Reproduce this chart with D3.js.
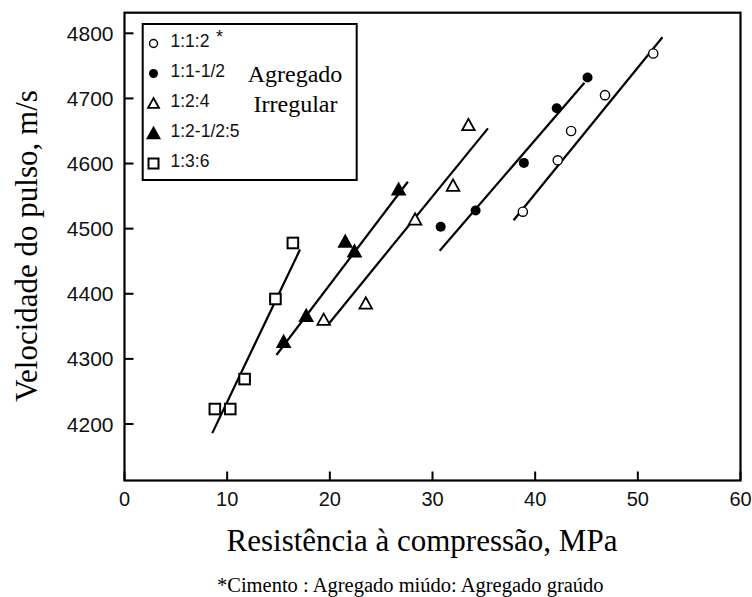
<!DOCTYPE html>
<html>
<head>
<meta charset="utf-8">
<script src="https://cdn.jsdelivr.net/npm/d3@7"></script>
<style>
body { margin: 0; background: #fff; }
.tickText { font-family: "Liberation Sans", Arial, sans-serif; fill: #111; }
.serif { font-family: "Liberation Serif", "Times New Roman", serif; fill: #000; }
</style>
</head>
<body>
<svg id="svgCanvas" width="752" height="597"></svg>
<script>
// series (compressive strength MPa, pulse velocity m/s)
var seriesNames = ["1:1:2", "1:1-1/2", "1:2:4", "1:2-1/2:5", "1:3:6"];

var s112_x = [38.8, 42.2, 43.5, 46.8, 51.5];
var s112_y = [4526, 4605, 4650, 4705, 4769];

var s11h_x = [30.8, 34.2, 38.9, 42.1, 45.1];
var s11h_y = [4503, 4528, 4601, 4685, 4732];

var s124_x = [19.4, 23.5, 28.3, 32.0, 33.5];
var s124_y = [4360, 4385, 4514, 4566, 4659];

var s1225_x = [15.5, 17.7, 21.5, 22.4, 26.7];
var s1225_y = [4326, 4366, 4480, 4465, 4560];

var s136_x = [8.8, 10.3, 11.7, 14.7, 16.4];
var s136_y = [4223, 4223, 4269, 4392, 4478];

// fitted lines: [x1, x2] and [y1, y2]
var fit112_x = [37.9, 52.4], fit112_y = [4513, 4794];
var fit11h_x = [30.7, 44.8], fit11h_y = [4466, 4724];
var fit124_x = [19.9, 35.4], fit124_y = [4354, 4654];
var fit1225_x = [14.8, 27.6], fit1225_y = [4306, 4572];
var fit136_x = [8.55, 17.1], fit136_y = [4186, 4468];

var xTicks = [0, 10, 20, 30, 40, 50, 60];
var yTicks = [4200, 4300, 4400, 4500, 4600, 4700, 4800];

var canvas = d3.select("#svgCanvas");

var xScale = d3.scaleLinear().domain([0, 60]).range([124.5, 740.5]);
var yScale = d3.scaleLinear().domain([4200, 4800]).range([424, 33.3]);

var plotLeft = 124.5, plotRight = 740.5, plotTop = 12.7, plotBottom = 480.5;

// grooves (inward ticks)
for (var i = 0; i < xTicks.length; i++) {
    canvas.append("line")
        .attr("x1", xScale(xTicks[i])).attr("x2", xScale(xTicks[i]))
        .attr("y1", plotBottom).attr("y2", plotBottom - 9)
        .attr("stroke", "#000").attr("stroke-width", 2);
    canvas.append("text")
        .attr("x", xScale(xTicks[i]))
        .attr("y", plotBottom + 25)
        .attr("text-anchor", "middle")
        .attr("font-size", 20)
        .attr("class", "tickText")
        .text(xTicks[i]);
}
for (var i = 0; i < yTicks.length; i++) {
    canvas.append("line")
        .attr("x1", plotLeft).attr("x2", plotLeft + 9)
        .attr("y1", yScale(yTicks[i])).attr("y2", yScale(yTicks[i]))
        .attr("stroke", "#000").attr("stroke-width", 2);
    canvas.append("text")
        .attr("x", plotLeft - 11)
        .attr("y", yScale(yTicks[i]) + 7.5)
        .attr("text-anchor", "end")
        .attr("font-size", 21)
        .attr("class", "tickText")
        .text(yTicks[i]);
}

// frame
canvas.append("rect")
    .attr("x", plotLeft).attr("y", plotTop)
    .attr("width", plotRight - plotLeft).attr("height", plotBottom - plotTop)
    .attr("fill", "none").attr("stroke", "#000").attr("stroke-width", 2.2);

// fit lines
var fits = [[fit112_x, fit112_y], [fit11h_x, fit11h_y], [fit124_x, fit124_y], [fit1225_x, fit1225_y], [fit136_x, fit136_y]];
for (var i = 0; i < fits.length; i++) {
    canvas.append("line")
        .attr("x1", xScale(fits[i][0][0])).attr("y1", yScale(fits[i][1][0]))
        .attr("x2", xScale(fits[i][0][1])).attr("y2", yScale(fits[i][1][1]))
        .attr("stroke", "#000").attr("stroke-width", 2.2);
}

function drawMarker(g, type, cx, cy, size) {
    if (type == "openCircle") {
        g.append("circle").attr("cx", cx).attr("cy", cy).attr("r", size)
            .attr("fill", "#fff").attr("stroke", "#000").attr("stroke-width", 1.4);
    } else if (type == "fullCircle") {
        g.append("circle").attr("cx", cx).attr("cy", cy).attr("r", size)
            .attr("fill", "#000");
    } else if (type == "openTri" || type == "fullTri") {
        var h = size * 1.8;
        var p = [[cx, cy - h * 0.55], [cx + size, cy + h * 0.45], [cx - size, cy + h * 0.45]];
        g.append("path").attr("d", "M" + p.join("L") + "Z")
            .attr("fill", type == "fullTri" ? "#000" : "#fff")
            .attr("stroke", "#000").attr("stroke-width", 1.8).attr("stroke-linejoin", "miter");
    } else if (type == "openSquare") {
        g.append("rect").attr("x", cx - size).attr("y", cy - size)
            .attr("width", size * 2).attr("height", size * 2)
            .attr("fill", "#fff").attr("stroke", "#000").attr("stroke-width", 2);
    }
}

var markerTypes = ["openCircle", "fullCircle", "openTri", "fullTri", "openSquare"];
var markerSizes = [4.6, 5, 6.3, 6.3, 5.3];
var allX = [s112_x, s11h_x, s124_x, s1225_x, s136_x];
var allY = [s112_y, s11h_y, s124_y, s1225_y, s136_y];

var pts = canvas.append("g");
for (var i = 0; i < allX.length; i++) {
    for (var j = 0; j < allX[i].length; j++) {
        drawMarker(pts, markerTypes[i], xScale(allX[i][j]), yScale(allY[i][j]), markerSizes[i]);
    }
}

// legend
var legend = canvas.append("g");
legend.append("rect")
    .attr("x", 142.7).attr("y", 24).attr("width", 214).attr("height", 156)
    .attr("fill", "#fff").attr("stroke", "#000").attr("stroke-width", 2);
var legMarkerSizes = [4, 4.5, 5.5, 6, 5];
for (var i = 0; i < seriesNames.length; i++) {
    var ly = 41.5 + i * 30;
    drawMarker(legend, markerTypes[i], 153.5, ly + 2, legMarkerSizes[i]);
    legend.append("text")
        .attr("x", 170.5).attr("y", ly + 5)
        .attr("font-size", 17.5)
        .attr("class", "tickText")
        .text(seriesNames[i]);
}
legend.append("text")
    .attr("x", 216).attr("y", 43)
    .attr("font-size", 18)
    .attr("class", "tickText")
    .text("*");
legend.append("text")
    .attr("x", 295).attr("y", 81.7)
    .attr("text-anchor", "middle")
    .attr("font-size", 24)
    .attr("class", "serif")
    .text("Agregado");
legend.append("text")
    .attr("x", 295.5).attr("y", 111.7)
    .attr("text-anchor", "middle")
    .attr("font-size", 24)
    .attr("class", "serif")
    .text("Irregular");

// axis titles
canvas.append("text")
    .attr("x", 422).attr("y", 551)
    .attr("text-anchor", "middle")
    .attr("font-size", 31)
    .attr("class", "serif")
    .text("Resistência à compressão, MPa");

canvas.append("text")
    .attr("transform", "translate(37,246) rotate(-90)")
    .attr("text-anchor", "middle")
    .attr("font-size", 31)
    .attr("class", "serif")
    .text("Velocidade do pulso, m/s");

canvas.append("text")
    .attr("x", 217).attr("y", 591.5)
    .attr("font-size", 20.5)
    .attr("class", "serif")
    .text("*Cimento : Agregado miúdo: Agregado graúdo");
</script>
</body>
</html>
